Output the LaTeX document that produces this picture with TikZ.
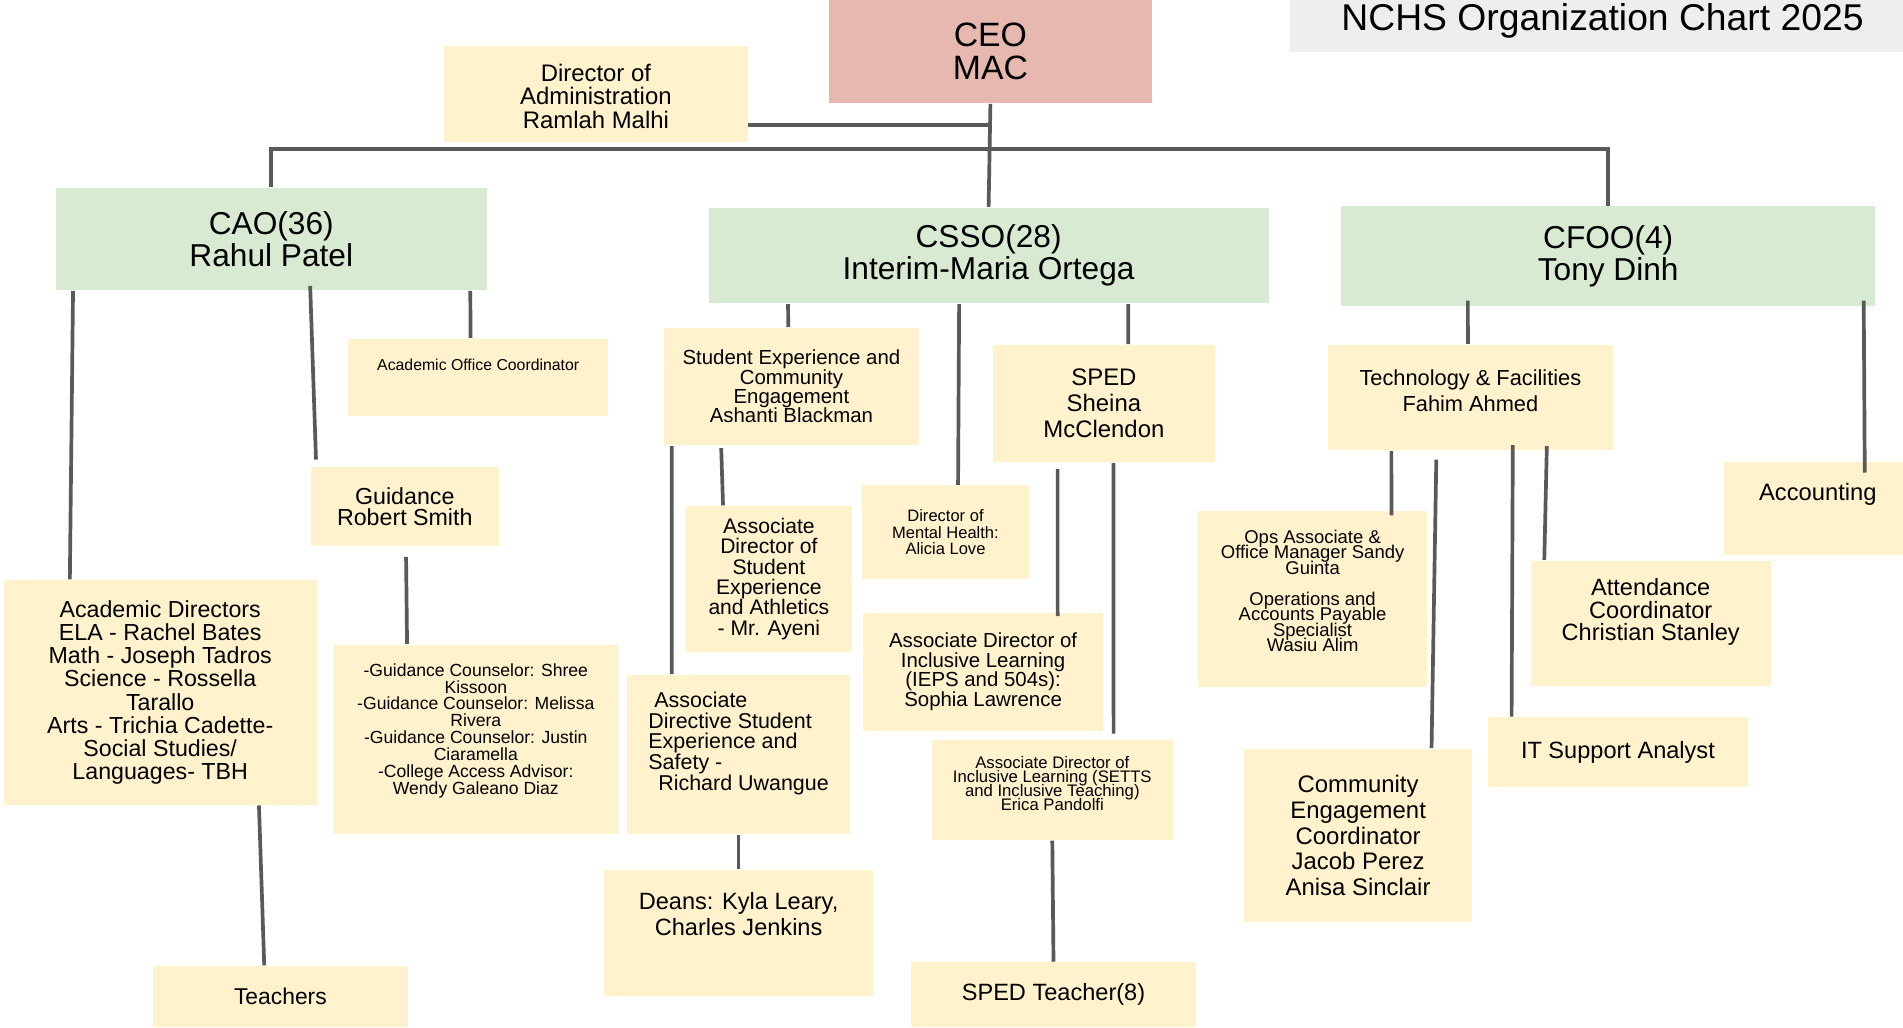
\documentclass[tikz,border=0pt]{standalone}
\usepackage{fontspec}
\setmainfont{Liberation Sans}

\newcommand{\fs}[2]{\fontsize{#1}{#2}\selectfont\lineskiplimit=-100pt\lineskip=0pt\relax}

\definecolor{boxyellow}{HTML}{FFF2CC}
\definecolor{boxgreen}{HTML}{D9EAD3}
\definecolor{boxpink}{HTML}{E6B8AF}
\definecolor{boxgray}{HTML}{EEEEEE}
\definecolor{linkgray}{HTML}{595959}

\begin{document}
\begin{tikzpicture}[x=0.01cm, y=-0.01cm,
    ybox/.style={fill=boxyellow, inner sep=0pt, align=center},
    gbox/.style={fill=boxgreen, inner sep=0pt, align=center, font=\fs{9}{9}},
    link/.style={linkgray, line width=1.05pt},
    every label/.style={align=center}]

\useasboundingbox (0,0) rectangle (1903,1027);

% titre
\node[fill=boxgray, minimum width=6.25cm, minimum height=0.62cm, font=\fs{10.6}{10.6}] (title) at (1602.5,21) {NCHS Organization Chart 2025};

% direction
\node[fill=boxpink, inner sep=0pt, align=center, minimum width=3.228cm, minimum height=1.032cm, font=\fs{9.6}{9.3}] (ceo) at (990.4,51.6) {CEO\\MAC};
\node[ybox, minimum width=3.034cm, minimum height=0.959cm, label={[font=\fs{6.8}{6.7}, yshift=-0.6pt]center:Director of\\Administration\\Ramlah Malhi}] (diradmin) at (595.9,94.1) {};

\node[gbox, minimum width=4.309cm, minimum height=1.02cm] (cao) at (271.3,239.1) {CAO(36)\\Rahul Patel};
\node[gbox, minimum width=5.595cm, minimum height=0.959cm] (csso) at (988.6,255.5) {CSSO(28)\\Interim-Maria Ortega};
\node[gbox, minimum width=5.341cm, minimum height=0.995cm] (cfoo) at (1608.2,256.1) {CFOO(4)\\Tony Dinh};

% cote CAO
\node[ybox, minimum width=3.132cm, minimum height=2.246cm, font=\fs{6.6}{6.6}] (acaddir) at (160.2,692.4) {Academic Directors\\ELA - Rachel Bates\\Math - Joseph Tadros\\Science - Rossella\\Tarallo\\Arts - Trichia Cadette-\\Social Studies/\\Languages- TBH};
\node[ybox, minimum width=1.881cm, minimum height=0.789cm, font=\fs{6.6}{5.8}] (guidance) at (404.8,506.7) {Guidance\\Robert Smith};
\node[ybox, minimum width=2.598cm, minimum height=0.777cm, label={[font=\fs{4.5}{4.5}, yshift=3.5pt]center:Academic Office Coordinator}] (aoc) at (478.2,377.5) {};
\node[ybox, minimum width=2.84cm, minimum height=1.893cm, label={[font=\fs{5}{4.8}, yshift=2.4pt]center:-Guidance Counselor: Shree\\Kissoon\\-Guidance Counselor: Melissa\\Rivera\\-Guidance Counselor: Justin\\Ciaramella\\-College Access Advisor:\\Wendy Galeano Diaz}] (guidcouns) at (475.8,739.2) {};
\node[ybox, minimum width=2.549cm, minimum height=0.607cm, font=\fs{6.5}{6.5}] (teachers) at (280.4,996.5) {Teachers};

% cote CSSO
\node[ybox, minimum width=2.549cm, minimum height=1.177cm, font=\fs{5.8}{5.5}] (studexp) at (791.4,386.6) {Student Experience and\\Community\\Engagement\\Ashanti Blackman};
\node[ybox, minimum width=2.221cm, minimum height=1.59cm, label={[font=\fs{6.1}{5.9}, align=left, yshift=3.1pt]center:\hspace*{1.7pt}Associate\\Directive Student\\Experience and\\Safety -\\\hspace*{2.8pt}Richard Uwangue}] (assocdirective) at (738.6,754.3) {};
\node[ybox, minimum width=2.683cm, minimum height=1.262cm, label={[font=\fs{6.7}{7.6}, yshift=5.5pt]center:Deans: Kyla Leary,\\Charles Jenkins}] (deans) at (738.6,933.3) {};
\node[ybox, minimum width=1.663cm, minimum height=1.457cm, font=\fs{6}{5.8}] (assocath) at (768.9,578.9) {Associate\\Director of\\Student\\Experience\\and Athletics\\- Mr. Ayeni};
\node[ybox, minimum width=1.675cm, minimum height=0.934cm, font=\fs{4.7}{4.65}] (dirmh) at (945.5,532.2) {Director of\\Mental Health:\\Alicia Love};
\node[ybox, minimum width=2.221cm, minimum height=1.177cm, font=\fs{6.8}{7.4}] (sped) at (1103.9,403.6) {SPED\\Sheina\\McClendon};
\node[ybox, minimum width=2.404cm, minimum height=1.177cm, font=\fs{5.8}{5.6}] (associeps) at (983.1,671.8) {Associate Director of\\Inclusive Learning\\(IEPS and 504s):\\Sophia Lawrence};
\node[ybox, minimum width=2.403cm, minimum height=0.995cm, label={[font=\fs{4.75}{4}, yshift=1.9pt]center:Associate Director of\\Inclusive Learning (SETTS\\and Inclusive Teaching)\\Erica Pandolfi}] (assocsetts) at (1052.3,790.1) {};
\node[ybox, minimum width=2.84cm, minimum height=0.643cm, font=\fs{6.7}{6.7}] (spedteach) at (1053.5,994.6) {SPED Teacher(8)};

% cote CFOO
\node[ybox, minimum width=2.852cm, minimum height=1.056cm, label={[font=\fs{6.2}{7.6}, yshift=1.9pt]center:Technology \& Facilities\\Fahim Ahmed}] (tech) at (1470.4,397.5) {};
\node[ybox, minimum width=1.885cm, minimum height=0.923cm, label={[font=\fs{6.75}{6.75}, yshift=4.1pt]center:Accounting}] (accounting) at (1817.8,508.5) {};
\node[ybox, minimum width=2.294cm, minimum height=1.76cm, label={[font=\fs{5.25}{4.4}, yshift=2.3pt]center:Ops Associate \&\\Office Manager Sandy\\Guinta\\[4.4pt]Operations and\\Accounts Payable\\Specialist\\Wasiu Alim}] (ops) at (1312.6,599) {};
\node[ybox, minimum width=2.282cm, minimum height=1.735cm, font=\fs{6.8}{7.3}] (community) at (1358.1,835.6) {Community\\Engagement\\Coordinator\\Jacob Perez\\Anisa Sinclair};
\node[ybox, minimum width=2.597cm, minimum height=0.692cm, font=\fs{6.7}{6.7}] (itsupport) at (1617.9,751.9) {IT Support Analyst};
\node[ybox, minimum width=2.403cm, minimum height=1.25cm, label={[font=\fs{6.7}{6.4}, yshift=3.1pt]center:Attendance\\Coordinator\\Christian Stanley}] (attendance) at (1650.7,623.2) {};


% liens du haut
\coordinate (bus) at (989,149);
\coordinate (adm) at (989,125);
\draw[link] (ceo.south) -- (csso.north);
\draw[link] (diradmin.east |- adm) -- (adm);
\draw[link] (cao.north) |- (bus) -| (cfoo.north);

% liens CAO
\draw[link] ([xshift=0.18cm]cao.south west) -- ([xshift=0.67cm]acaddir.north west);
\draw[link] ([xshift=2.55cm, yshift=0.05cm]cao.south west) -- ([xshift=0.06cm, yshift=0.07cm]guidance.north west);
\draw[link] ([xshift=4.15cm]cao.south west) -- ([xshift=1.23cm]aoc.north west);
\draw[link] ([xshift=0.96cm, yshift=-0.1cm]guidance.south west) -- ([xshift=0.74cm]guidcouns.north west);
\draw[link] ([xshift=2.56cm]acaddir.south west) -- ([xshift=1.12cm]teachers.north west);

% liens CSSO
\draw[link] ([xshift=0.8cm]csso.south west) -- ([xshift=1.25cm]studexp.north west);
\draw[link] ([xshift=0.085cm]studexp.south west) -- ([xshift=0.45cm]assocdirective.north west);
\draw[link] ([xshift=0.58cm, yshift=-0.02cm]studexp.south west) -- ([xshift=0.38cm]assocath.north west);
\draw[link] ([xshift=2.51cm]csso.south west) -- ([xshift=0.97cm]dirmh.north west);
\draw[link] ([xshift=4.2cm]csso.south west) -- ([xshift=1.36cm]sped.north west);
\draw[link] ([xshift=0.655cm, yshift=-0.06cm]sped.south west) -- ([xshift=1.954cm, yshift=-0.04cm]associeps.north west);
\draw[link] ([xshift=1.214cm]sped.south west) -- ([xshift=1.821cm, yshift=0.06cm]assocsetts.north west);
\draw[link] (assocsetts.south) -- (spedteach.north);
\draw[link] (assocdirective.south) -- (deans.north);

% liens CFOO
\draw[link] ([xshift=1.275cm, yshift=0.06cm]cfoo.south west) -- ([xshift=1.408cm]tech.north west);
\draw[link] ([xshift=5.231cm, yshift=0.06cm]cfoo.south west) -- ([xshift=1.419cm, yshift=-0.11cm]accounting.north west);
\draw[link] ([xshift=0.643cm]tech.south west) -- ([xshift=1.942cm, yshift=-0.05cm]ops.north west);
\draw[link] ([xshift=1.092cm, yshift=-0.085cm]tech.south west) -- ([xshift=1.882cm]community.north west);
\draw[link] ([xshift=1.857cm, yshift=0.06cm]tech.south west) -- ([xshift=0.243cm]itsupport.north west);
\draw[link] ([xshift=2.197cm, yshift=0.05cm]tech.south west) -- ([xshift=0.145cm]attendance.north west);

\end{tikzpicture}
\end{document}
